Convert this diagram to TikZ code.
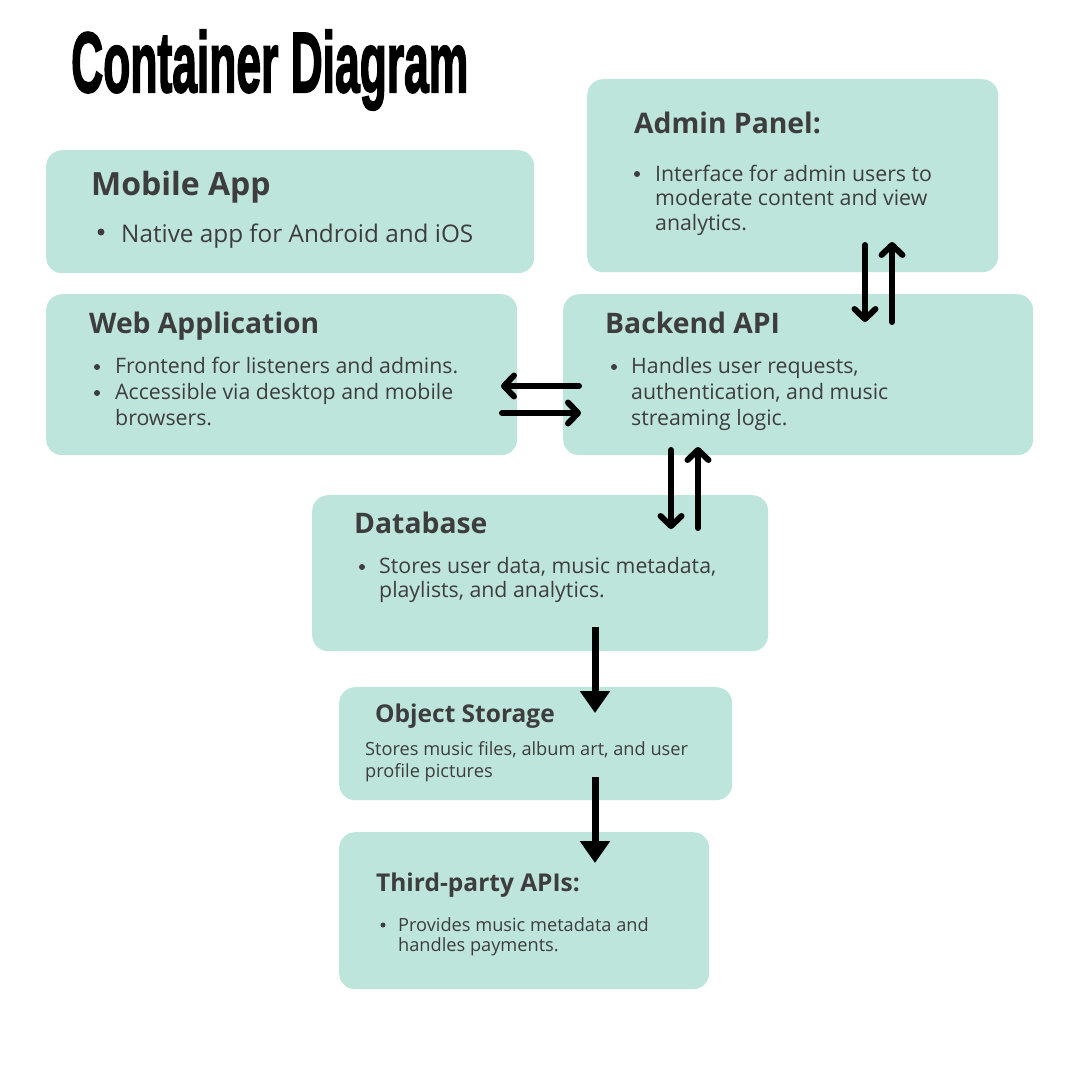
\documentclass[tikz,border=0pt]{standalone}
\usepackage{fontspec}
\setmainfont{Open Sans}
\newfontfamily\titlefont{Liberation Sans}[BoldFeatures={FakeBold=2.5}]
\usetikzlibrary{arrows.meta}
\definecolor{boxc}{HTML}{BEE5DC}
\definecolor{txt}{HTML}{3D3D3D}
\tikzset{
  box/.style={fill=boxc, draw=none, rounded corners=16pt, inner sep=0pt, anchor=north west},
  ttlb/.style={font=\bfseries\fontsize{32}{32}\selectfont, text=txt, anchor=base west, inner sep=0pt},
  ttl/.style={font=\bfseries\fontsize{28.3}{28.3}\selectfont, text=txt, anchor=base west, inner sep=0pt},
  ttls/.style={font=\bfseries\fontsize{24.5}{24.5}\selectfont, text=txt, anchor=base west, inner sep=0pt},
  bodyb/.style={font=\fontsize{24.3}{24.3}\selectfont, text=txt, anchor=base west, inner sep=0pt},
  body/.style={font=\fontsize{21.3}{21.3}\selectfont, text=txt, anchor=base west, inner sep=0pt},
  bodys/.style={font=\fontsize{18.2}{18.2}\selectfont, text=txt, anchor=base west, inner sep=0pt},
  dot/.style={circle, fill=txt, draw=none, inner sep=0pt, minimum size=6pt},
  dotb/.style={dot, minimum size=7pt},
  dots/.style={dot, minimum size=5pt},
  dblarrow/.style={line width=6pt, line cap=round, line join=round, -{Straight Barb[length=10pt,width=21pt,round]}},
  bigarrow/.style={line width=7pt, -{Triangle[length=22pt,width=29pt]}}
}
\begin{document}
\begin{tikzpicture}[x=1pt,y=-1pt]
\useasboundingbox (0,0) rectangle (1080,1080);
\fill[white] (0,0) rectangle (1080,1080);

% title
\node[anchor=base west, inner sep=0pt] (title) at (71,92)
  {\resizebox{397pt}{62pt}{\titlefont\bfseries Container Diagram}};

% boxes
\node[box, minimum width=488pt, minimum height=123pt] (mobile) at (46,150) {};
\node[box, minimum width=411pt, minimum height=193pt] (admin) at (587,79) {};
\node[box, minimum width=471pt, minimum height=161pt] (web) at (46,294) {};
\node[box, minimum width=470pt, minimum height=161pt] (backend) at (563,294) {};
\node[box, minimum width=456pt, minimum height=156pt] (db) at (312,495) {};
\node[box, minimum width=393pt, minimum height=113pt] (obj) at (339,687) {};
\node[box, minimum width=370pt, minimum height=157pt] (third) at (339,832) {};

% Mobile App
\node[ttlb] (mobileT) at (91,195) {Mobile App};
\node[dotb] (mobileB) at (101,232) {};
\node[bodyb] (mobile1) at (121,242) {Native app for Android and iOS};

% Admin Panel
\node[ttl] (adminT) at (634,133) {Admin Panel:};
\node[dot] (adminB) at (637,174) {};
\node[body] (admin1) at (655,181) {Interface for admin users to};
\node[body] (admin2) at (655,205.5) {moderate content and view};
\node[body] (admin3) at (655,230) {analytics.};

% Web Application
\node[ttl] (webT) at (89,333) {Web Application};
\node[dot] (webB1) at (97,367) {};
\node[body] (web1) at (115,373) {Frontend for listeners and admins.};
\node[dot] (webB2) at (97,393) {};
\node[body] (web2) at (115,399) {Accessible via desktop and mobile};
\node[body] (web3) at (115,425) {browsers.};

% Backend API
\node[ttl] (backT) at (605,333) {Backend API};
\node[dot] (backB) at (614,367) {};
\node[body] (back1) at (631,373) {Handles user requests,};
\node[body] (back2) at (631,399) {authentication, and music};
\node[body] (back3) at (631,425) {streaming logic.};

% Database
\node[ttl] (dbT) at (354,533) {Database};
\node[dot] (dbB) at (362,567) {};
\node[body] (db1) at (379,573) {Stores user data, music metadata,};
\node[body] (db2) at (379,597.5) {playlists, and analytics.};

% Object Storage
\node[ttls] (objT) at (375,722) {Object Storage};
\node[bodys] (obj1) at (365,755) {Stores music files, album art, and user};
\node[bodys] (obj2) at (365,777) {profile pictures};

% Third-party APIs
\node[ttls] (thirdT) at (376,891) {Third-party APIs:};
\node[dots] (thirdB) at (383,925) {};
\node[bodys] (third1) at (398,931) {Provides music metadata and};
\node[bodys] (third2) at (398,951) {handles payments.};

% arrow end points
\coordinate (ab1s) at (865,245); \coordinate (ab1e) at (865,322);
\coordinate (ab2s) at (892,322); \coordinate (ab2e) at (892,242);
\coordinate (wb1s) at (579,386); \coordinate (wb1e) at (501,386);
\coordinate (wb2s) at (502,413); \coordinate (wb2e) at (581,413);
\coordinate (bd1s) at (671,450); \coordinate (bd1e) at (671,529);
\coordinate (bd2s) at (698,528); \coordinate (bd2e) at (698,447);
\coordinate (do1s) at (595,627); \coordinate (do1e) at (595,713);
\coordinate (ot1s) at (595,777); \coordinate (ot1e) at (595,863);

\draw[dblarrow] (ab1s) -- (ab1e);
\draw[dblarrow] (ab2s) -- (ab2e);
\draw[dblarrow] (wb1s) -- (wb1e);
\draw[dblarrow] (wb2s) -- (wb2e);
\draw[dblarrow] (bd1s) -- (bd1e);
\draw[dblarrow] (bd2s) -- (bd2e);
\draw[bigarrow] (do1s) -- (do1e);
\draw[bigarrow] (ot1s) -- (ot1e);
\end{tikzpicture}
\end{document}
